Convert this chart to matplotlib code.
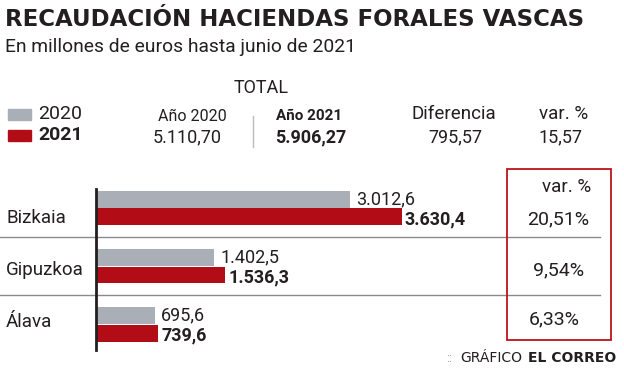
import matplotlib
matplotlib.use('Agg')
import matplotlib.pyplot as plt
from matplotlib.patches import Rectangle
from matplotlib.lines import Line2D

provincias = ['Bizkaia', 'Gipuzkoa', 'Álava']
valores_2020 = [3012.6, 1402.5, 695.6]
valores_2021 = [3630.4, 1536.3, 739.6]
etiquetas_2020 = ['3.012,6', '1.402,5', '695,6']
etiquetas_2021 = ['3.630,4', '1.536,3', '739,6']
variacion = ['20,51%', '9,54%', '6,33%']

total_cabecera = ['Año 2020', 'Año 2021', 'Diferencia', 'var. %']
total_valores = ['5.110,70', '5.906,27', '795,57', '15,57']

GRIS = '#a9aeb7'
ROJO = '#b20d16'
TEXTO = '#231f20'
FUENTE = 'Roboto'

W, H = 624, 368
fig = plt.figure(figsize=(W / 100, H / 100), dpi=100)
fig.patch.set_facecolor('white')


def px(x, y):
    return x / W, 1 - y / H


def texto(x, y, s, size, weight='normal', ha='left', color=TEXTO, family=FUENTE):
    fig.text(*px(x, y), s, fontsize=size, fontweight=weight, ha=ha, va='center',
             color=color, family=family)


# titulo
texto(5, 19, 'RECAUDACIÓN HACIENDAS FORALES VASCAS', 16.5, weight='bold', family='DejaVu Sans')
texto(5, 47, 'En millones de euros hasta junio de 2021', 13.9)

# bloque total
texto(261, 88, 'TOTAL', 13, ha='center')
fig.patches.append(Rectangle(px(8, 120), 23 / W, 11 / H, transform=fig.transFigure, color=GRIS))
fig.patches.append(Rectangle(px(8, 141), 23 / W, 11 / H, transform=fig.transFigure, color=ROJO))
texto(38, 114, '2020', 14)
texto(38, 135, '2021', 14, weight='bold')

xs_cab = [192, 309, 454, 564]
xs_val = [187, 311, 455, 560]
tam_cab = [11.5, 11, 13.5, 13.5]
for i, (cab, val) in enumerate(zip(total_cabecera, total_valores)):
    peso = 'bold' if i == 1 else 'normal'
    texto(xs_cab[i], 116 if i < 2 else 114, cab, tam_cab[i], weight=peso, ha='center')
    texto(xs_val[i], 137, val, 13, weight=peso, ha='center')
fig.lines.append(Line2D([253 / W, 253 / W], [1 - 116 / H, 1 - 147 / H],
                        transform=fig.transFigure, color='#bbbbbb', lw=1))

# barras
ax = fig.add_axes([96 / W, 1 - 350 / H, 404 / W, 161 / H])
pos = list(range(len(provincias)))
alto = 0.29
ax.barh([p - 0.15 for p in pos], valores_2020, height=alto, color=GRIS)
ax.barh([p + 0.15 for p in pos], valores_2021, height=alto, color=ROJO)
ax.set_xlim(0, 4800)
ax.set_ylim(2.44, -0.328)
for p, v20, v21, e20, e21 in zip(pos, valores_2020, valores_2021, etiquetas_2020, etiquetas_2021):
    ax.text(v20 + 80, p - 0.15, e20, fontsize=13, va='center', color=TEXTO, family=FUENTE)
    ax.text(v21 + 40, p + 0.19, e21, fontsize=13, va='center', fontweight='bold',
            color=TEXTO, family=FUENTE)
for s in ['top', 'right', 'bottom']:
    ax.spines[s].set_visible(False)
ax.spines['left'].set_linewidth(2)
ax.spines['left'].set_color(TEXTO)
ax.set_xticks([])
ax.set_yticks([])

# separadores
for yy in [0.5, 1.5]:
    ax.plot([-96 / 404, 504 / 404], [yy, yy], transform=ax.get_yaxis_transform(),
            color='#8a8a8a', lw=1, clip_on=False)

# nombres
for nombre, yy in zip(provincias, [218, 270, 322]):
    texto(6, yy, nombre, 13.5)

# caja var. %
fig.patches.append(Rectangle(px(507, 340), 104 / W, 171 / H, transform=fig.transFigure,
                             fill=False, edgecolor='#c0111a', lw=1.3))
texto(567, 187, 'var. %', 13.5, ha='center')
for v, xx, yy in zip(variacion, [558, 559, 554], [219, 270, 319]):
    texto(xx, yy, v, 14, ha='center')

# firma
texto(446, 358, '::', 9, color='#999999')
texto(460, 358, 'GRÁFICO', 10, family='DejaVu Sans')
texto(616, 358, 'EL CORREO', 10, weight='bold', ha='right', family='DejaVu Sans')

fig.savefig('out.png', dpi=100)
